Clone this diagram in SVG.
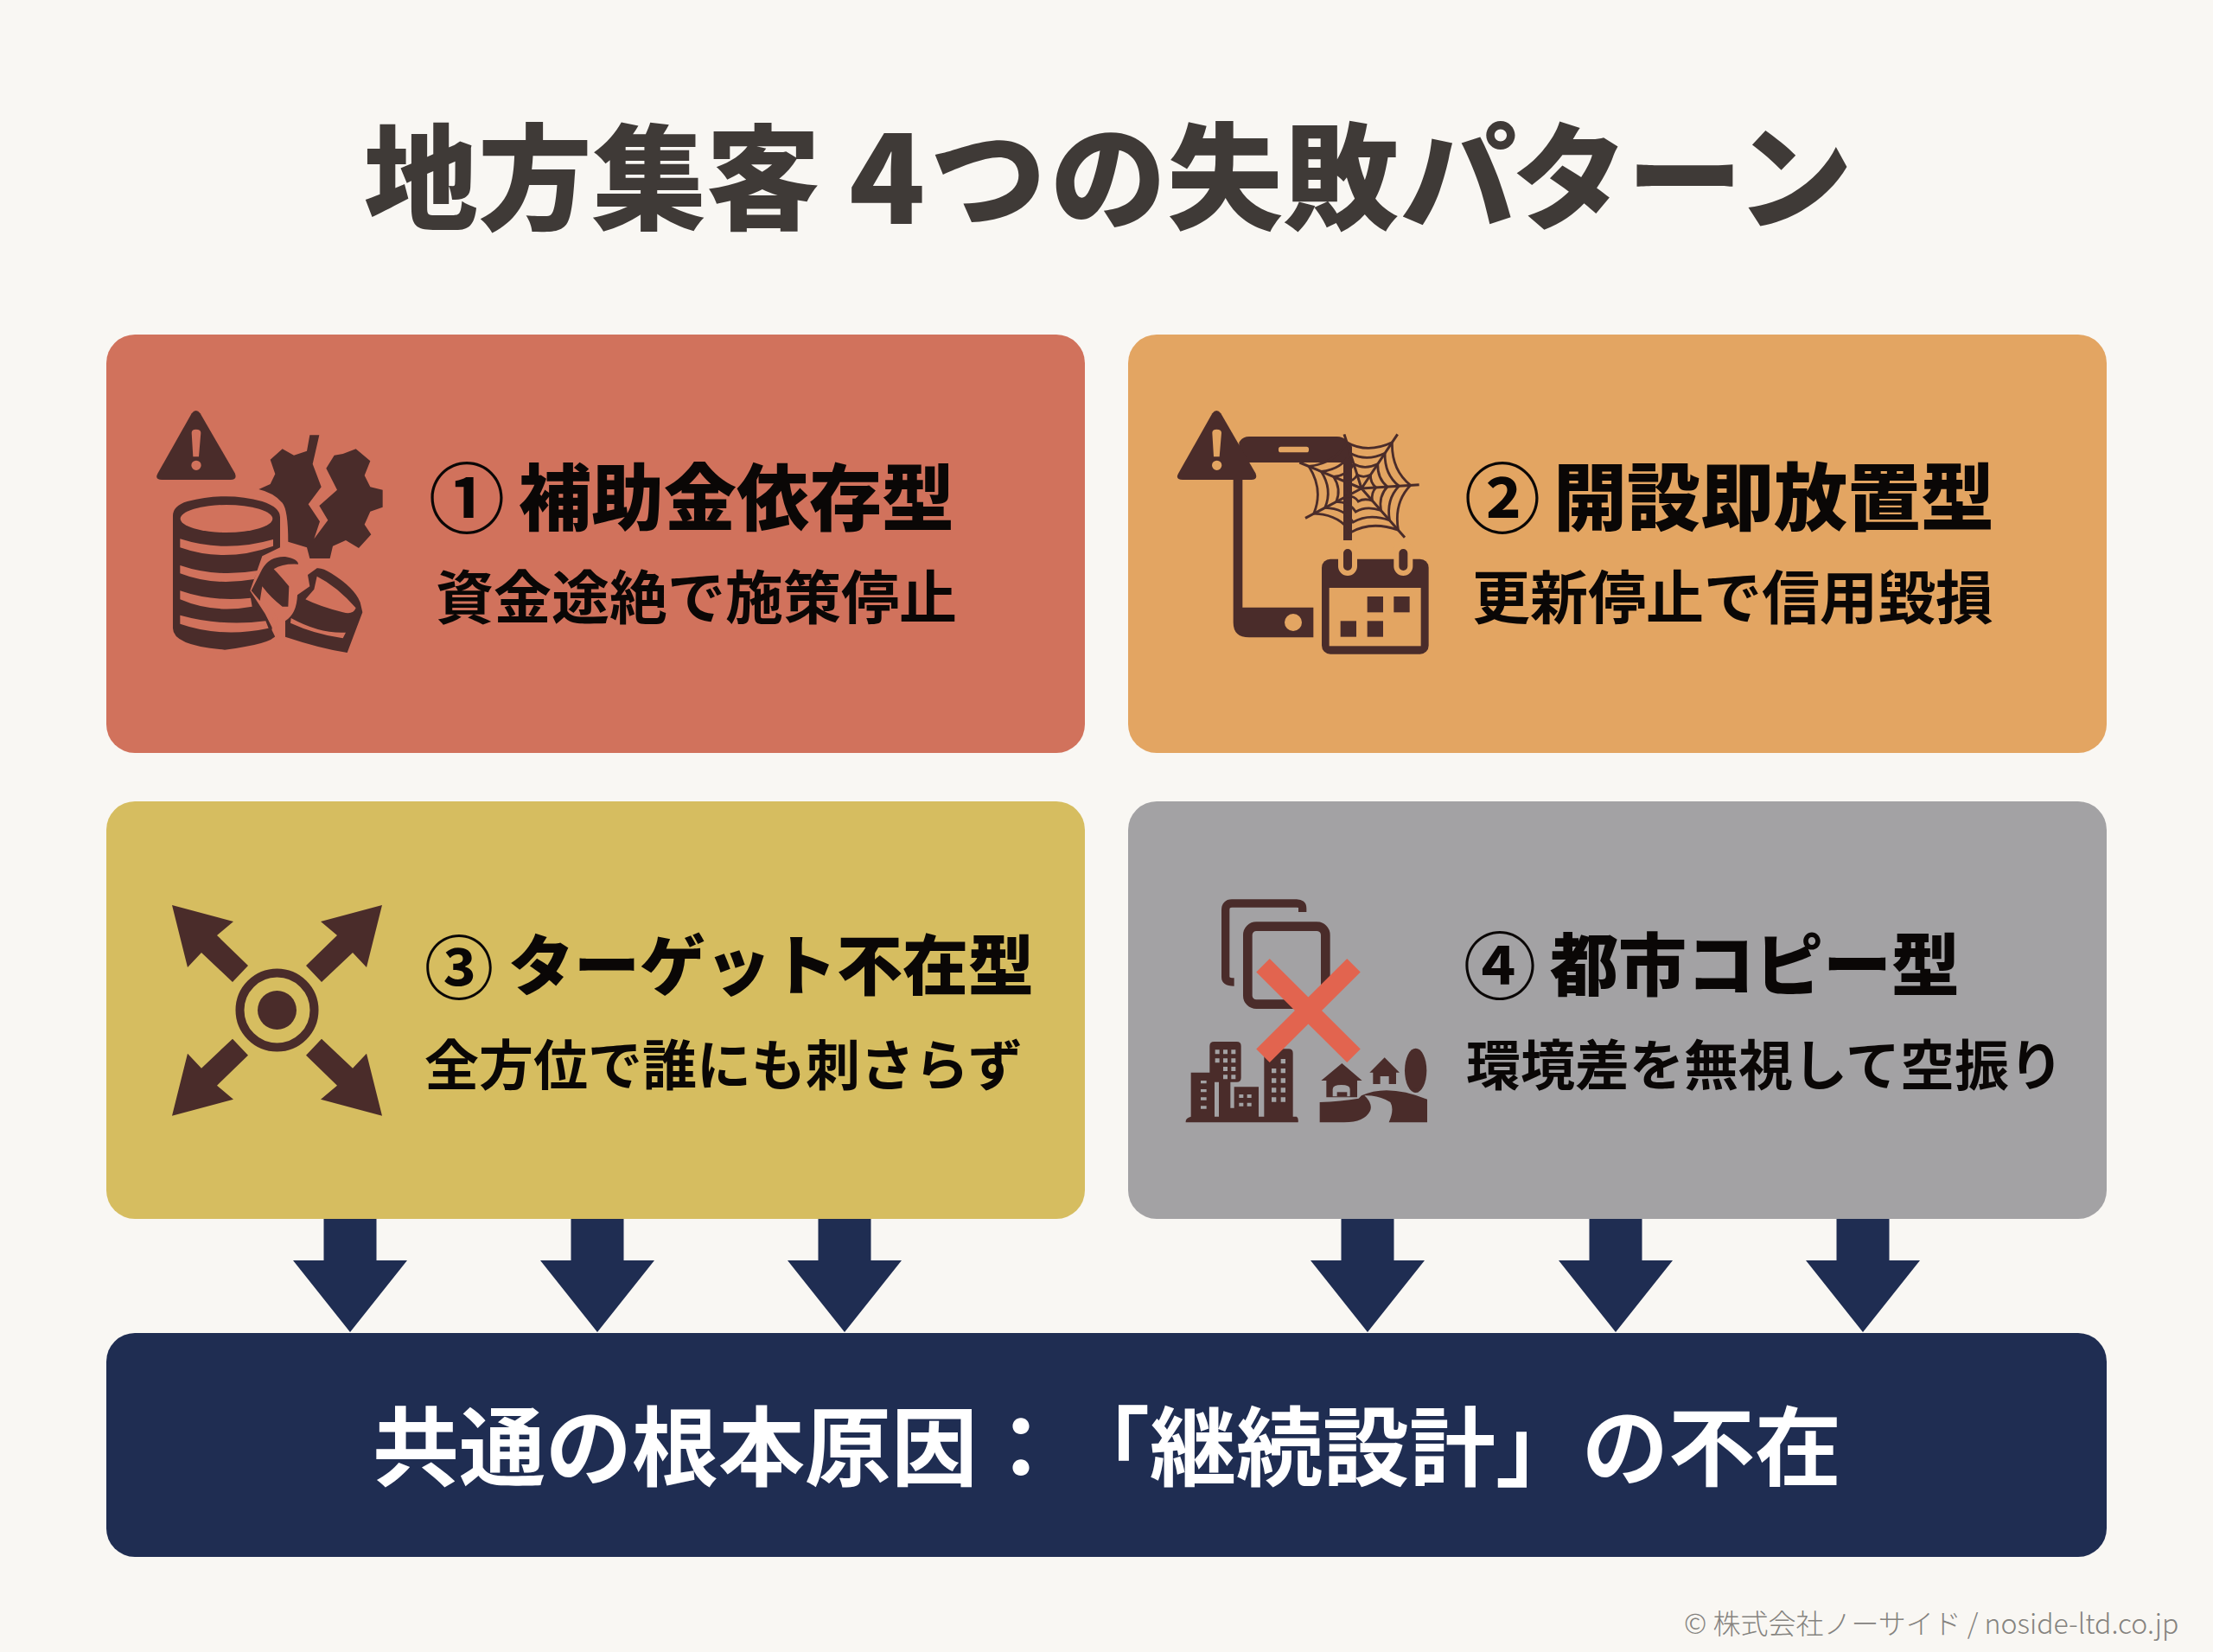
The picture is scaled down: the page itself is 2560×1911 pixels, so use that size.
<svg xmlns="http://www.w3.org/2000/svg" xmlns:xlink="http://www.w3.org/1999/xlink" width="2560" height="1911" viewBox="0 0 2560 1911">
<style>
text{font-family:"Noto Sans CJK JP","Noto Sans CJK SC",sans-serif}
.head{font-size:84px;font-weight:900;fill:#0a0706}
.sub{font-size:67px;font-weight:700;fill:#0a0706}
.num{font-size:88px;font-weight:700;fill:#0a0706}
.ic{fill:#4a2c2a}
.is{fill:none;stroke:#4a2c2a}
.arrow{fill:#1f2d52}
.c1{fill:#d1725c}.c2{fill:#e3a562}.c4{fill:#a3a2a4}
</style>
<defs>
<path id="warn" d="M155 25 Q170 5 185 25 L305 232 Q315 255 290 255 H52 Q25 255 38 232 Z" class="ic"/>
<path id="bang" d="M155 92 Q155 80 170 80 Q187 80 187 92 L180 175 H160 Z M188 205 A17 17 0 1 1 154 205 A17 17 0 1 1 188 205 Z"/>
<polygon id="bigarrow" points="199,1047 270,1066 251,1082 287,1117 269,1136 233,1102 217,1119" class="ic"/>
<polygon id="down" points="-30.500,0 30.500,0 30.500,49 66,49 0,132 -66,49 -30.500,49" class="arrow"/>
<path id="ring" d="M125 -188 Q122 -75 200 -13 Q131 59 150 170 Q39 131 -45 180 Q-90 106 -195 103 Q-154 5 -215 -90 Q-103 -104 -60 -188 Q24 -141 125 -188 Z" fill="none" stroke="#4a2c2a" stroke-width="2.800" vector-effect="non-scaling-stroke"/>
</defs>
<rect width="2560" height="1911" fill="#f9f7f3"/>
<g id="title" font-weight="900" fill="#3f3a37"><text x="421" y="255" font-size="132">地方集客</text><text x="982" y="259" font-size="145">4</text><text x="1076 1215 1350 1484 1620 1749 1882 2009" y="255" font-size="134">つの失敗パターン</text></g>

<g id="connectors">
<use xlink:href="#down" href="#down" x="405" y="1409"/>
<use xlink:href="#down" href="#down" x="691" y="1409"/>
<use xlink:href="#down" href="#down" x="977" y="1409"/>
<use xlink:href="#down" href="#down" x="1582" y="1409"/>
<use xlink:href="#down" href="#down" x="1869" y="1409"/>
<use xlink:href="#down" href="#down" x="2155" y="1409"/>
</g>

<g id="node-1">
<rect x="123" y="387" width="1132" height="484" rx="33" fill="#d1725c"/>
<g id="icon-1" transform="translate(170 470) scale(.33333)">
<use xlink:href="#warn" href="#warn"/>
<use xlink:href="#bang" href="#bang" class="c1"/>
<path d="M565 100 L555 155 L510 170 L470 148 L428 185 L445 235 L428 270 L388 288 Q440 300 470 335 Q490 360 490 470 L555 490 L565 528 H635 L645 485 L690 465 L735 492 L778 445 L755 410 L775 365 L818 350 V290 L775 280 L755 240 L775 190 L725 148 L680 165 L650 170 L622 215 L660 290 L598 345 L628 395 L580 460 L600 400 L560 340 L605 280 L575 200 L598 100 Z" class="ic"/>
<path d="M90 380 Q90 345 140 330 Q276 295 400 330 Q462 350 462 385 V490 L400 520 L358 640 L410 720 L448 795 Q430 825 270 845 Q90 830 90 770 Z" class="ic"/>
<ellipse cx="276" cy="390" rx="160" ry="48" class="c1"/>
<g class="c1">
<path d="M115 460 Q270 510 438 462 V485 Q270 545 115 490 Z"/>
<path d="M115 552 Q240 595 385 570 L372 600 Q230 625 115 580 Z"/>
<path d="M115 640 Q230 680 360 665 L365 695 Q230 720 115 670 Z"/>
<path d="M115 725 Q260 765 412 745 L422 770 Q260 805 115 755 Z"/>
</g>
<path d="M400 620 L402 668 L445 735 L440 775 L452 800" fill="none" stroke="#d1725c" stroke-width="13"/>
<path d="M525 548 Q525 530 480 522 Q425 520 400 565 L362 640 L392 675 L400 625 Q430 665 470 695 L490 695 L493 625 Q460 585 440 565 Q470 545 525 548 Z" class="ic"/>
<path d="M590 562 Q610 560 640 580 Q720 630 740 680 L748 715 L695 855 Q600 840 480 800 V745 Q520 720 522 655 L565 625 L558 585 Z" class="ic"/>
<path d="M590 590 Q660 625 725 700 Q715 725 680 715 Q600 695 550 670 L580 635 Z M500 735 Q600 790 690 785 L680 805 Q580 790 498 752 Z" class="c1"/>
</g>
<text class="num" x="496" y="609">①</text>
<text class="head" x="600" y="607">補助金依存型</text>
<text class="sub" x="504" y="716">資金途絶で施策停止</text>
</g>

<g id="node-2">
<rect x="1305" y="387" width="1132" height="484" rx="33" fill="#e3a562"/>
<g id="icon-2" transform="translate(1360 470) scale(.33333)">
<path d="M220 125 Q232 105 255 105 H560 Q590 105 612 140 V465 H582 V195 H232 V698 H478 V802 H255 Q200 802 200 750 V250 H220 Z" class="ic"/>
<rect x="357" y="140" width="105" height="20" rx="8" class="c2"/>
<circle cx="408" cy="750" r="30" class="c2"/>
<use xlink:href="#warn" href="#warn" x="-28"/>
<use xlink:href="#bang" href="#bang" x="-28" class="c2"/>
<g transform="translate(645 285)">
<path d="M0 0 L125 -188 M0 0 L200 -13 M0 0 L150 170 M0 0 L-195 103 M0 0 L-215 -90 M0 0 L-60 -188" class="is" stroke-width="9"/>
<use xlink:href="#ring" href="#ring" transform="scale(.25)"/>
<use xlink:href="#ring" href="#ring" transform="scale(.45)"/>
<use xlink:href="#ring" href="#ring" transform="scale(.65)"/>
<use xlink:href="#ring" href="#ring" transform="scale(.85)"/>
</g>
<rect x="507" y="530" width="371" height="330" rx="30" class="ic"/>
<rect x="533" y="630" width="318" height="202" class="c2"/>
<rect x="665" y="660" width="55" height="55" class="ic"/><rect x="757" y="660" width="55" height="55" class="ic"/>
<rect x="572" y="745" width="55" height="55" class="ic"/><rect x="665" y="745" width="55" height="55" class="ic"/>
<path d="M597 500 V555 M790 500 V555" stroke="#e3a562" stroke-width="66" stroke-linecap="round"/>
<path d="M597 510 V555 M790 510 V555" stroke="#4a2c2a" stroke-width="30" stroke-linecap="round"/>
</g>
<text class="num" x="1694" y="609">②</text>
<text class="head" x="1797" y="607" style="font-size:85px">開設即放置型</text>
<text class="sub" x="1703" y="716">更新停止で信用毀損</text>
</g>

<g id="node-3">
<rect x="123" y="927" width="1132" height="483" rx="33" fill="#d6bd60"/>
<g id="icon-3">
<use xlink:href="#bigarrow" href="#bigarrow"/>
<use xlink:href="#bigarrow" href="#bigarrow" transform="translate(641 0) scale(-1 1)"/>
<use xlink:href="#bigarrow" href="#bigarrow" transform="translate(0 2337.700) scale(1 -1)"/>
<use xlink:href="#bigarrow" href="#bigarrow" transform="translate(641 2337.700) scale(-1 -1)"/>
<circle cx="320.500" cy="1168.500" r="43" fill="none" stroke="#4a2c2a" stroke-width="10"/>
<circle cx="320.500" cy="1168.500" r="22.500" class="ic"/>
</g>
<text class="num" x="491" y="1149" style="font-size:80px">③</text>
<text class="head" x="588" y="1145" style="font-size:76px">ターゲット不在型</text>
<text class="sub" x="491" y="1255" style="font-size:63px">全方位で誰にも刺さらず</text>
</g>

<g id="node-4">
<rect x="1305" y="927" width="1132" height="483" rx="33" fill="#a3a2a4"/>
<g id="icon-4" transform="translate(1365 1030) scale(.33333)">
<path d="M425 75 V62 Q425 45 405 45 H180 Q158 45 158 68 V300 Q158 318 188 318" class="is" stroke-width="28"/>
<rect x="235" y="125" width="270" height="270" rx="30" class="is" stroke-width="32"/>
<path d="M38 632 H120 V785 H135 V665 H118 Q103 665 103 650 V540 Q103 525 118 525 H197 Q212 525 212 540 V650 Q212 665 197 665 H175 V755 H188 V682 H273 V785 H292 V565 Q292 550 307 550 H377 Q392 550 392 565 V785 H405 Q412 790 410 805 H20 Q18 790 38 785 Z" class="ic"/>
<g class="c4">
<path d="M72 660h20v10h-20z M72 690h20v10h-20z M72 718h20v10h-20z M72 748h20v10h-20z"/>
<path d="M122 553h15v15h-15z M150 553h15v15h-15z M178 553h15v15h-15z M122 583h15v15h-15z M150 583h15v15h-15z M178 583h15v15h-15z M150 612h15v15h-15z M178 612h15v15h-15z M150 640h15v15h-15z M178 640h15v15h-15z"/>
<path d="M205 708h15v12h-15z M233 708h15v12h-15z M205 737h15v12h-15z M233 737h15v12h-15z"/>
<path d="M350 585h16v16h-16z M318 618h16v16h-16z M350 618h16v16h-16z M318 652h16v16h-16z M350 652h16v16h-16z M318 685h16v16h-16z M350 685h16v16h-16z M318 718h16v16h-16z M350 718h16v16h-16z"/>
</g>
<path d="M562 600 L632 660 H615 V718 H508 V660 H490 Z M710 580 L762 632 H750 V672 H670 V632 H658 Z" class="ic"/>
<path d="M530 715 V690 Q530 675 560 675 Q590 675 590 690 V715 Z" class="c4"/>
<rect x="545" y="700" width="35" height="15" class="ic"/>
<rect x="695" y="645" width="30" height="27" class="c4"/>
<ellipse cx="818" cy="625" rx="38" ry="77" class="ic"/>
<rect x="812" y="690" width="16" height="10" class="ic"/>
<path d="M485 735 Q560 732 620 722 L630 712 Q720 670 858 725 V805 H725 Q745 760 730 735 Q690 710 640 712 Q670 740 660 765 Q640 805 570 805 H485 Z" class="ic"/>
<path d="M288 260 L603 574 M603 260 L288 574" stroke="#e2644f" stroke-width="66" fill="none"/>
</g>
<text class="num" x="1693" y="1149" style="font-size:84px">④</text>
<text class="head" x="1793" y="1146" style="font-size:79px">都市コピー型</text>
<text class="sub" x="1696" y="1255" style="font-size:63px">環境差を無視して空振り</text>
</g>

<g id="node-root">
<rect x="123" y="1542" width="2314" height="259" rx="33" fill="#1f2d52"/>
<text y="1711" font-size="100" font-weight="700" fill="#fff"><tspan x="431">共通の根本原因：</tspan><tspan x="1230">「継続設計」の不在</tspan></text>
</g>
<g id="footer"><text x="1948" y="1890" font-size="32" font-weight="300" fill="#85837f">© 株式会社ノーサイド / noside-ltd.co.jp</text></g>
</svg>
